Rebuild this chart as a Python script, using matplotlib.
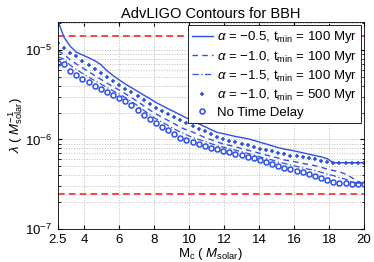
import matplotlib
matplotlib.use("Agg")
import matplotlib.pyplot as plt
import numpy as np

plt.rcParams['font.family'] = ['Liberation Sans', 'DejaVu Sans']
plt.rcParams['mathtext.fontset'] = 'custom'
plt.rcParams['mathtext.rm'] = 'Liberation Sans'
plt.rcParams['mathtext.it'] = 'Liberation Sans:italic'
plt.rcParams['font.size'] = 9.5

# chirp mass grid (M_solar), 2.5 .. 20 in steps of 0.35
mc = [2.5, 2.85, 3.2, 3.55, 3.9, 4.25, 4.6, 4.95, 5.3, 5.65,
      6.0, 6.35, 6.7, 7.05, 7.4, 7.75, 8.1, 8.45, 8.8, 9.15,
      9.5, 9.85, 10.2, 10.55, 10.9, 11.25, 11.6, 11.95, 12.3, 12.65,
      13.0, 13.35, 13.7, 14.05, 14.4, 14.75, 15.1, 15.45, 15.8, 16.15,
      16.5, 16.85, 17.2, 17.55, 17.9, 18.25, 18.6, 18.95, 19.3, 19.65, 20.0]

# rates in units of 1e-6 per M_solar
a05_t100 = [21.0, 13.8, 11.0, 9.43, 8.8, 8.2, 7.58, 6.86, 5.87, 5.17,
            4.63, 4.16, 3.79, 3.45, 3.14, 2.86, 2.59, 2.39, 2.20, 2.04,
            1.88, 1.74, 1.62, 1.50, 1.39, 1.29, 1.20, 1.16, 1.12, 1.08,
            1.05, 1.02, 0.977, 0.93, 0.89, 0.85, 0.81, 0.78, 0.76, 0.735,
            0.71, 0.685, 0.66, 0.64, 0.61, 0.55, 0.55, 0.55, 0.55, 0.55, 0.55]

a10_t100 = [9.75, 8.9, 7.74, 6.97, 6.31, 5.71, 5.18, 4.70, 4.27, 3.89,
            3.56, 3.24, 2.94, 2.66, 2.38, 2.13, 1.93, 1.77, 1.63, 1.50,
            1.37, 1.28, 1.21, 1.13, 1.05, 0.995, 0.94, 0.89, 0.86, 0.83,
            0.79, 0.76, 0.73, 0.70, 0.67, 0.645, 0.62, 0.59, 0.575, 0.56,
            0.54, 0.525, 0.51, 0.49, 0.465, 0.45, 0.435, 0.41, 0.375, 0.34, 0.32]

a15_t100 = [8.36, 7.9, 6.74, 6.06, 5.48, 4.97, 4.55, 4.17, 3.81, 3.50,
            3.22, 2.94, 2.66, 2.39, 2.12, 1.90, 1.70, 1.57, 1.43, 1.31,
            1.21, 1.13, 1.05, 1.0, 0.95, 0.90, 0.85, 0.82, 0.79, 0.76,
            0.73, 0.70, 0.67, 0.64, 0.61, 0.59, 0.56, 0.54, 0.52, 0.50,
            0.48, 0.465, 0.45, 0.43, 0.41, 0.395, 0.375, 0.36, 0.335, 0.325, 0.32]

a10_t500 = [11.9, 10.5, 9.3, 8.45, 7.6, 6.86, 6.15, 5.5, 4.95, 4.47,
            4.04, 3.67, 3.37, 3.08, 2.78, 2.48, 2.25, 2.07, 1.92, 1.78,
            1.65, 1.53, 1.43, 1.32, 1.23, 1.14, 1.06, 1.01, 0.97, 0.93,
            0.89, 0.86, 0.82, 0.79, 0.77, 0.74, 0.71, 0.68, 0.66, 0.65,
            0.63, 0.62, 0.60, 0.58, 0.555, 0.55, 0.55, 0.55, 0.55, 0.55, 0.55]

no_delay = [7.17, 7.0, 5.88, 5.25, 4.76, 4.33, 4.0, 3.7, 3.42, 3.16,
            2.93, 2.68, 2.40, 2.13, 1.89, 1.68, 1.53, 1.39, 1.26, 1.15,
            1.05, 0.977, 0.93, 0.89, 0.85, 0.81, 0.775, 0.75, 0.72, 0.69,
            0.67, 0.645, 0.615, 0.59, 0.56, 0.535, 0.51, 0.485, 0.465, 0.445,
            0.43, 0.41, 0.395, 0.375, 0.355, 0.335, 0.33, 0.325, 0.32, 0.32, 0.32]

upper_limit = 1.43e-5
lower_limit = 2.45e-7

labels = [r'$\alpha$ = $-$0.5, t$_{\mathregular{min}}$ = 100 Myr',
          r'$\alpha$ = $-$1.0, t$_{\mathregular{min}}$ = 100 Myr',
          r'$\alpha$ = $-$1.5, t$_{\mathregular{min}}$ = 100 Myr',
          r'$\alpha$ = $-$1.0, t$_{\mathregular{min}}$ = 500 Myr',
          'No Time Delay']

blue = '#2e4ff0'
scale = 1e-6

fig = plt.figure(figsize=(3.74, 2.62), dpi=100)
ax = fig.add_axes([0.155, 0.126, 0.818, 0.790])

ax.axhline(upper_limit, color='#ff2020', ls=(0, (4, 2.5)), lw=1.2, zorder=1)
ax.axhline(lower_limit, color='#ff2020', ls=(0, (4, 2.5)), lw=1.2, zorder=1)

ax.plot(mc, np.array(a05_t100) * scale, color=blue, lw=1.0, ls='-', label=labels[0])
ax.plot(mc, np.array(a10_t100) * scale, color=blue, lw=1.0, ls=(0, (4, 3)), label=labels[1])
ax.plot(mc, np.array(a15_t100) * scale, color=blue, lw=0.9, ls=(0, (5, 2, 1, 2)), label=labels[2])
ax.plot(mc, np.array(a10_t500) * scale, color=blue, ls='none', marker='+', ms=3.5, mew=1.1, label=labels[3])
ax.plot(mc, np.array(no_delay) * scale, color=blue, ls='none', marker='o', ms=3.6, mew=1.1,
        mfc='none', label=labels[4])

ax.set_yscale('log')
ax.set_xlim(2.5, 20)
ax.set_ylim(1e-7, 2.05e-5)
ax.set_xticks([2.5, 4, 6, 8, 10, 12, 14, 16, 18, 20])
ax.set_xticklabels(['2.5', '4', '6', '8', '10', '12', '14', '16', '18', '20'])

ax.grid(True, which='major', color='#bbbbbb', ls=':', lw=0.7)
ax.grid(True, which='minor', axis='y', color='#bbbbbb', ls=':', lw=0.7)
ax.tick_params(which='both', direction='in', top=True, right=True, labelsize=9.5)
ax.tick_params(axis='x', pad=3.5)
ax.tick_params(axis='y', pad=4)
ax.tick_params(which='major', length=3)
ax.tick_params(which='minor', length=1.8)
for s in ax.spines.values():
    s.set_linewidth(0.6)

ax.set_title('AdvLIGO Contours for BBH', fontsize=10.5, pad=3)
ax.set_xlabel(r'M$_\mathregular{c}$ ( $\mathit{M}_\mathregular{solar}$)', labelpad=0)
ax.set_ylabel(r'$\lambda$ ( $\mathit{M}^{-1}_\mathregular{solar}$)', labelpad=0)

leg = ax.legend(loc='upper right', fontsize=9.5, frameon=True, fancybox=False,
                edgecolor='black', framealpha=1, handlelength=1.6,
                handletextpad=0.3, borderpad=0.3, labelspacing=0.25,
                borderaxespad=0.25)
leg.get_frame().set_linewidth(0.6)

fig.savefig('out.png', dpi=100)
